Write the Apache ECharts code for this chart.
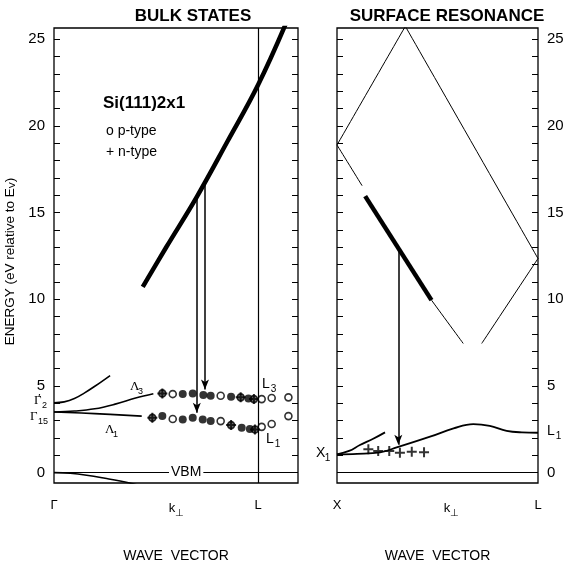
<!DOCTYPE html>
<html>
<head>
<meta charset="utf-8">
<script src="https://cdn.jsdelivr.net/npm/echarts@6/dist/echarts.min.js"></script>
<style>
  html, body { margin: 0; padding: 0; background: #fff; }
  #chart { width: 571px; height: 569px; }
</style>
</head>
<body>
<div id="chart"></div>
<script>
// tick labels
const energyTicks = [0, 5, 10, 15, 20, 25];
const energyMinor = [0, 1, 2, 3, 4, 5, 6, 7, 8, 9, 10, 11, 12, 13, 14, 15, 16, 17, 18, 19, 20, 21, 22, 23, 24, 25];
const bulkKTicks = [0, 0.6, 1];
const bulkKLabels = ['Γ', 'k', 'L'];
const surfKTicks = [0, 0.57, 1];
const surfKLabels = ['X', 'k', 'L'];

// bulk states (x: 0 = Γ, 1 = L)
const vbmBand = [[0, 0], [0.08, -0.04], [0.16, -0.15], [0.25, -0.33], [0.37, -0.6], [0.42, -0.75]];
const gamma2Band = [[0, 4.03], [0.05, 4.08], [0.1, 4.27], [0.15, 4.6], [0.2, 4.98], [0.275, 5.6]];
const lambda3Band = [[0, 3.5], [0.1, 3.55], [0.2, 3.68], [0.3, 3.95], [0.4, 4.3], [0.487, 4.55]];
const lambda1Band = [[0, 3.5], [0.2, 3.4], [0.43, 3.26]];
const finalBand = [[0.435, 10.72], [0.55, 13.0], [0.7, 15.91], [0.85, 19.1], [1.0, 22.36], [1.14, 26]];
const bulkArrows = [[0.70, 15.82, 3.45], [0.74, 16.69, 4.8]];

const pOpen = [[0.582, 4.53], [0.817, 4.43], [1.018, 4.24], [1.067, 4.30], [1.149, 4.34],
  [0.582, 3.09], [0.817, 2.97], [1.018, 2.64], [1.067, 2.80], [1.149, 3.26]];
const pFilled = [[0.631, 4.53], [0.680, 4.57], [0.732, 4.47], [0.768, 4.43], [0.868, 4.37], [0.953, 4.28],
  [0.531, 3.26], [0.631, 3.07], [0.680, 3.16], [0.729, 3.07], [0.768, 2.97], [0.920, 2.59], [0.960, 2.52]];
const pCrossed = [[0.531, 4.57], [0.915, 4.34], [0.980, 4.24], [0.482, 3.16], [0.868, 2.74], [0.985, 2.49]];

// surface resonance (x: 0 = X, 1 = L)
const resUp = [[0, 18.9], [0.35, 25.95]];
const resTopRight = [[0.33, 25.95], [1, 12.35]];
const resDownA = [[0, 18.9], [0.125, 16.55]];
const resThick = [[0.14, 15.95], [0.47, 9.95]];
const resDownB = [[0.47, 9.95], [0.628, 7.45]];
const resRightUp = [[0.72, 7.45], [1, 12.35]];
const x1Band = [[0, 1.05], [0.1, 1.08], [0.214, 1.17], [0.297, 1.45], [0.463, 2.07], [0.58, 2.55],
  [0.678, 2.8], [0.76, 2.7], [0.844, 2.41], [0.92, 2.32], [1, 2.3]];
const x1Upper = [[0, 1.05], [0.06, 1.25], [0.114, 1.59], [0.18, 1.95], [0.239, 2.32]];
const nSurf = [[0.156, 1.34], [0.205, 1.24], [0.260, 1.24], [0.313, 1.14], [0.372, 1.20], [0.433, 1.17]];
const surfArrow = [0.305, 12.84, 1.6];

const FONT = 'Liberation Sans, Arial, sans-serif';
const SERIF = 'Liberation Serif, DejaVu Serif, serif';
const PLUS = 'path://M-1,-0.2H-0.2V-1H0.2V-0.2H1V0.2H0.2V1H-0.2V0.2H-1Z';

const chart = echarts.init(document.getElementById('chart'));

function curve(data, xi, yi, width) {
  return {
    type: 'line', xAxisIndex: xi, yAxisIndex: yi, data: data, smooth: 0.4,
    showSymbol: false, silent: true,
    lineStyle: { color: '#000', width: width || 1.6 }
  };
}

function arrowLine(x, y1, y2) {
  return [{ coord: [x, y1] }, { coord: [x, y2] }];
}

function kFormatter(labels, ticks) {
  return function (v) {
    const i = ticks.findIndex(t => Math.abs(t - v) < 1e-6);
    if (i < 0) return '';
    return labels[i] === 'k' ? '{k|k}{s|⊥}' : '{t|' + labels[i] + '}';
  };
}

const kRich = {
  t: { fontFamily: FONT, fontSize: 13, color: '#000' },
  k: { fontFamily: FONT, fontSize: 13, color: '#000' },
  s: { fontFamily: FONT, fontSize: 10, color: '#000', padding: [9, 0, 0, 0] }
};

function xAxisOf(grid, max, ticks, labels) {
  return {
    type: 'value', gridIndex: grid, min: 0, max: max,
    axisLine: { show: false }, axisTick: { show: false }, splitLine: { show: false },
    axisLabel: { customValues: ticks, formatter: kFormatter(labels, ticks), rich: kRich, margin: 16 },
    name: 'WAVE  VECTOR', nameLocation: 'middle', nameGap: 66,
    nameTextStyle: { fontFamily: FONT, fontSize: 14, color: '#000' }
  };
}

function yAxisOf(grid, pos, labels) {
  return {
    type: 'value', gridIndex: grid, position: pos, min: -0.6, max: 25.65,
    axisLine: { show: false }, splitLine: { show: false },
    axisTick: { show: true, inside: true, length: 6, customValues: energyMinor, lineStyle: { color: '#000', width: 1 } },
    axisLabel: { show: labels, customValues: energyTicks, fontFamily: FONT, fontSize: 15, color: '#000', margin: 9 }
  };
}

function sub(x, y, base, s, font, size) {
  return [
    { type: 'text', left: x, top: y, z: 100, style: { text: base, font: size + 'px ' + font, fill: '#000' } },
    { type: 'text', left: x + size * 0.62, top: y + size * 0.55, z: 100, style: { text: s, font: Math.round(size * 0.72) + 'px ' + FONT, fill: '#000' } }
  ];
}

const yName = yAxisOf(0, 'left', true);
yName.name = 'ENERGY (eV relative to E{s|V})';
yName.nameLocation = 'middle';
yName.nameGap = 37;
yName.nameTextStyle = {
  fontFamily: FONT, fontSize: 13.5, color: '#000', padding: [0, 12, 0, 0],
  rich: { s: { fontFamily: FONT, fontSize: 9, color: '#000', verticalAlign: 'bottom', lineHeight: 11 } }
};

const option = {
  animation: false,
  backgroundColor: '#fff',
  title: [
    { text: 'BULK STATES', left: 188, top: 3, textAlign: 'center', textStyle: { fontFamily: FONT, fontSize: 17, fontWeight: 'bold', color: '#000' } },
    { text: 'SURFACE RESONANCE', left: 442, top: 3, textAlign: 'center', textStyle: { fontFamily: FONT, fontSize: 17, fontWeight: 'bold', color: '#000' } }
  ],
  grid: [
    { left: 54, top: 28, width: 244, height: 455, show: true, borderColor: '#000', borderWidth: 1.3, backgroundColor: 'transparent' },
    { left: 337, top: 28, width: 201, height: 455, show: true, borderColor: '#000', borderWidth: 1.3, backgroundColor: 'transparent' }
  ],
  xAxis: [
    xAxisOf(0, 1.196, bulkKTicks, bulkKLabels),
    xAxisOf(1, 1, surfKTicks, surfKLabels)
  ],
  yAxis: [
    yName,
    yAxisOf(0, 'right', false),
    yAxisOf(1, 'left', false),
    yAxisOf(1, 'right', true)
  ],
  series: [
    curve(vbmBand, 0, 0),
    curve(gamma2Band, 0, 0),
    curve(lambda3Band, 0, 0),
    curve(lambda1Band, 0, 0),
    Object.assign(curve(finalBand, 0, 0, 4.5), {
      markLine: {
        silent: true, symbol: ['none', 'arrow'], symbolSize: [6, 10], label: { show: false },
        lineStyle: { color: '#000', width: 1.5, type: 'solid' },
        data: bulkArrows.map(a => arrowLine(a[0], a[1], a[2]))
      }
    }),
    {
      type: 'line', xAxisIndex: 0, yAxisIndex: 0, data: [], silent: true,
      markLine: {
        silent: true, symbol: 'none', label: { show: false },
        lineStyle: { color: '#000', width: 1.2, type: 'solid' },
        data: [{ xAxis: 1 }, { yAxis: 0 }]
      }
    },
    {
      type: 'scatter', xAxisIndex: 0, yAxisIndex: 0, data: pOpen, symbol: 'circle', symbolSize: 7,
      itemStyle: { color: '#fff', borderColor: '#000', borderWidth: 1.6 }
    },
    {
      type: 'scatter', xAxisIndex: 0, yAxisIndex: 0, data: pCrossed, symbol: 'circle', symbolSize: 7,
      itemStyle: { color: '#555', borderColor: '#000', borderWidth: 1.6 }
    },
    {
      type: 'scatter', xAxisIndex: 0, yAxisIndex: 0, data: pFilled, symbol: 'circle', symbolSize: 8,
      itemStyle: { color: '#000' }
    },
    {
      type: 'scatter', xAxisIndex: 0, yAxisIndex: 0, data: pCrossed, symbol: PLUS, symbolSize: 10,
      itemStyle: { color: '#000' }, z: 5
    },
    // surface resonance panel
    curve(resUp, 1, 2, 1),
    curve(resTopRight, 1, 2, 1),
    curve(resDownA, 1, 2, 1),
    curve(resThick, 1, 2, 4.5),
    curve(resDownB, 1, 2, 1),
    curve(resRightUp, 1, 2, 1),
    curve(x1Band, 1, 2, 1.8),
    Object.assign(curve(x1Upper, 1, 2, 1.8), {
      markLine: {
        silent: true, symbol: 'none', label: { show: false },
        lineStyle: { color: '#000', width: 1.2, type: 'solid' },
        data: [{ yAxis: 0 }]
      }
    }),
    {
      type: 'line', xAxisIndex: 1, yAxisIndex: 2, data: [], silent: true,
      markLine: {
        silent: true, symbol: ['none', 'arrow'], symbolSize: [6, 10], label: { show: false },
        lineStyle: { color: '#000', width: 1.5, type: 'solid' },
        data: [arrowLine(surfArrow[0], surfArrow[1], surfArrow[2])]
      }
    },
    {
      type: 'scatter', xAxisIndex: 1, yAxisIndex: 2, data: nSurf, symbol: PLUS, symbolSize: 10,
      itemStyle: { color: '#000' }
    }
  ],
  graphic: [
    { type: 'text', left: 103, top: 95, z: 100, style: { text: 'Si(111)2x1', font: 'bold 17px ' + FONT, fill: '#000' } },
    { type: 'text', left: 106, top: 124, z: 100, style: { text: 'o p-type', font: '14px ' + FONT, fill: '#000' } },
    { type: 'text', left: 106, top: 145, z: 100, style: { text: '+ n-type', font: '14px ' + FONT, fill: '#000' } },
    { type: 'text', left: 169, top: 465, z: 100, style: { text: 'VBM', font: '14px ' + FONT, fill: '#000', backgroundColor: '#fff', padding: [0, 2] } },
    { type: 'text', left: 38, top: 392, z: 100, style: { text: '′', font: '13px ' + SERIF, fill: '#000' } }
  ].concat(
    sub(34, 394, 'Γ', '2', SERIF, 13),
    sub(30, 410, 'Γ', '15', SERIF, 13),
    sub(130, 380, 'Λ', '3', SERIF, 13),
    sub(105, 423, 'Λ', '1', SERIF, 13),
    sub(262, 377, 'L', '3', FONT, 14),
    sub(266, 432, 'L', '1', FONT, 14),
    sub(316, 446, 'X', '1', FONT, 14),
    sub(547, 424, 'L', '1', FONT, 14)
  )
};

chart.setOption(option);
</script>
</body>
</html>
